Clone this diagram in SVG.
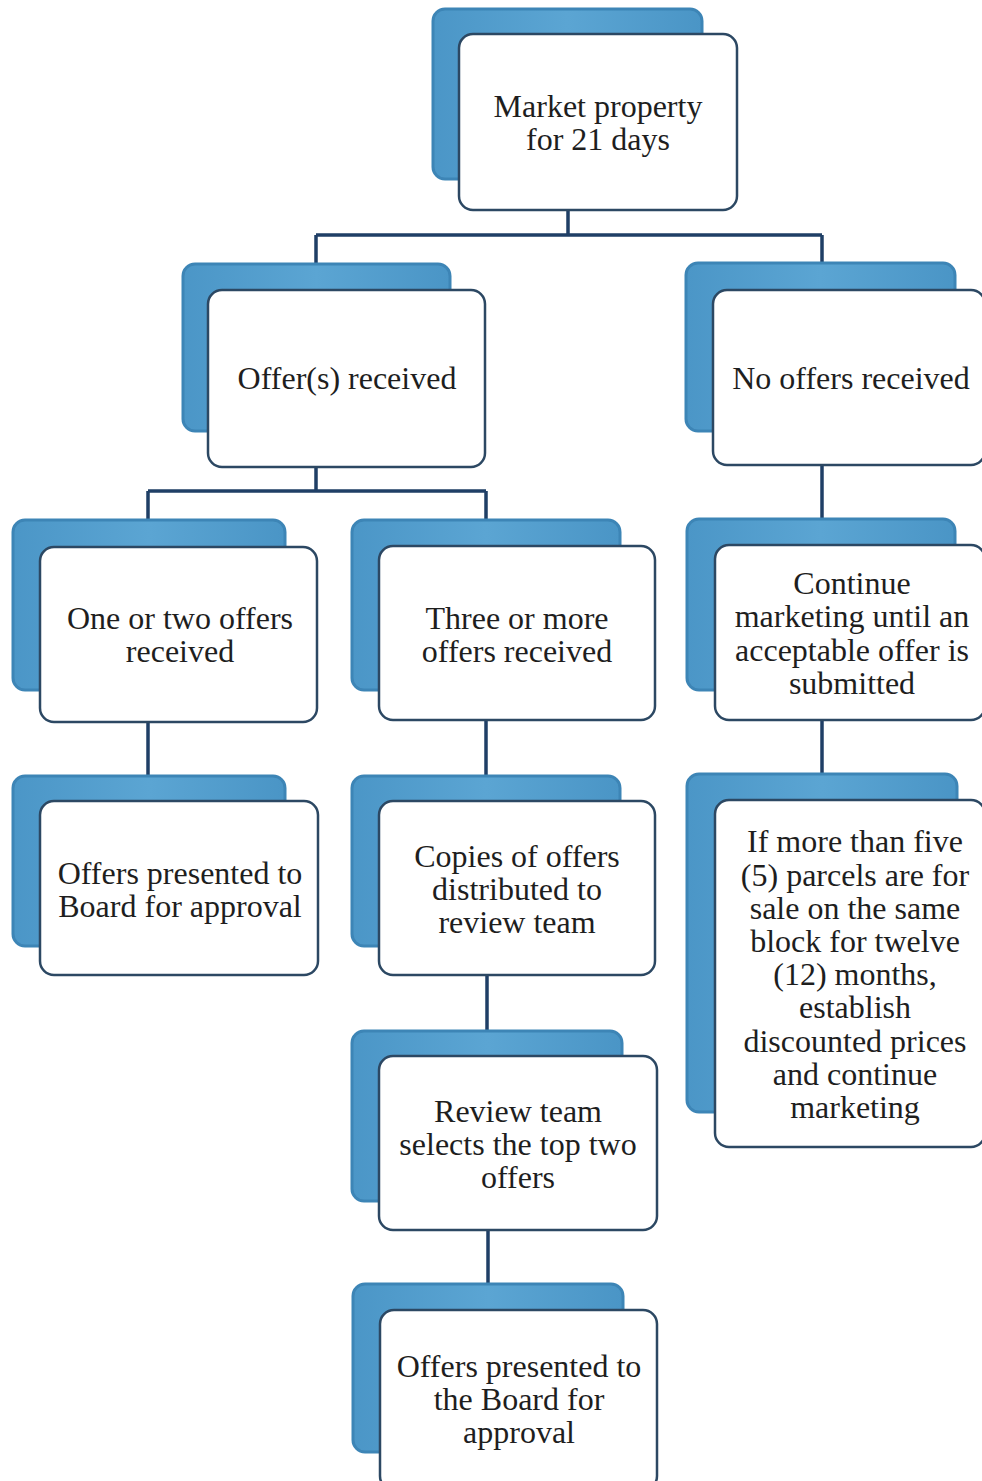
<svg xmlns="http://www.w3.org/2000/svg" width="982" height="1481" viewBox="0 0 982 1481">
<defs>
<linearGradient id="bg" x1="0" y1="0" x2="1" y2="0">
<stop offset="0" stop-color="#4b96c7"/>
<stop offset="0.5" stop-color="#5ba5d3"/>
<stop offset="1" stop-color="#4a95c6"/>
</linearGradient>
</defs>
<style>
.back{fill:url(#bg);stroke:#3d85b6;stroke-width:3}
.front{fill:#ffffff;stroke:#2c4863;stroke-width:2.5}
.conn{fill:none;stroke:#1f3f66;stroke-width:3.5}
text{font-family:"Liberation Serif","Times New Roman",serif;font-size:32px;fill:#1e1e1e;text-anchor:middle}
</style>
<rect width="982" height="1481" fill="#ffffff"/>
<g id="connectors">
<path class="conn" d="M568 210V235M316 235H822M316 235V265M822 235V264"/>
<path class="conn" d="M316 467V491M148 491H486M148 491V522M486 491V522"/>
<path class="conn" d="M822 465V520"/>
<path class="conn" d="M148 722V777"/>
<path class="conn" d="M486 720V777"/>
<path class="conn" d="M822 720V775"/>
<path class="conn" d="M487 975V1032"/>
<path class="conn" d="M488 1230V1285"/>
</g>
<g id="n1">
<rect class="back" x="433" y="9" width="269" height="170" rx="12"/>
<rect class="front" x="459" y="34" width="278" height="176" rx="14"/>
<text x="598" y="117">Market property</text>
<text x="598" y="150">for 21 days</text>
</g>
<g id="n2">
<rect class="back" x="183" y="264" width="267" height="167" rx="12"/>
<rect class="front" x="208" y="290" width="277" height="177" rx="14"/>
<text x="347" y="389">Offer(s) received</text>
</g>
<g id="n3">
<rect class="back" x="686" y="263" width="269" height="168" rx="12"/>
<rect class="front" x="713" y="290" width="272" height="175" rx="14"/>
<text x="851" y="389">No offers received</text>
</g>
<g id="n4">
<rect class="back" x="13" y="520" width="272" height="170" rx="12"/>
<rect class="front" x="40" y="547" width="277" height="175" rx="14"/>
<text x="180" y="629">One or two offers</text>
<text x="180" y="662">received</text>
</g>
<g id="n5">
<rect class="back" x="352" y="520" width="268" height="170" rx="12"/>
<rect class="front" x="379" y="546" width="276" height="174" rx="14"/>
<text x="517" y="629">Three or more</text>
<text x="517" y="662">offers received</text>
</g>
<g id="n6">
<rect class="back" x="687" y="519" width="268" height="171" rx="12"/>
<rect class="front" x="715" y="545" width="270" height="175" rx="14"/>
<text x="852" y="594">Continue</text>
<text x="852" y="627">marketing until an</text>
<text x="852" y="661">acceptable offer is</text>
<text x="852" y="694">submitted</text>
</g>
<g id="n7">
<rect class="back" x="13" y="776" width="272" height="170" rx="12"/>
<rect class="front" x="40" y="801" width="278" height="174" rx="14"/>
<text x="180" y="884">Offers presented to</text>
<text x="180" y="917">Board for approval</text>
</g>
<g id="n8">
<rect class="back" x="352" y="776" width="268" height="170" rx="12"/>
<rect class="front" x="379" y="801" width="276" height="174" rx="14"/>
<text x="517" y="867">Copies of offers</text>
<text x="517" y="900">distributed to</text>
<text x="517" y="933">review team</text>
</g>
<g id="n9">
<rect class="back" x="687" y="774" width="270" height="338" rx="12"/>
<rect class="front" x="715" y="800" width="270" height="347" rx="14"/>
<text x="855" y="852">If more than five</text>
<text x="855" y="886">(5) parcels are for</text>
<text x="855" y="919">sale on the same</text>
<text x="855" y="952">block for twelve</text>
<text x="855" y="985">(12) months,</text>
<text x="855" y="1018">establish</text>
<text x="855" y="1052">discounted prices</text>
<text x="855" y="1085">and continue</text>
<text x="855" y="1118">marketing</text>
</g>
<g id="n10">
<rect class="back" x="352" y="1031" width="270" height="170" rx="12"/>
<rect class="front" x="379" y="1056" width="278" height="174" rx="14"/>
<text x="518" y="1122">Review team</text>
<text x="518" y="1155">selects the top two</text>
<text x="518" y="1188">offers</text>
</g>
<g id="n11">
<rect class="back" x="353" y="1284" width="270" height="168" rx="12"/>
<rect class="front" x="380" y="1310" width="277" height="180" rx="14"/>
<text x="519" y="1377">Offers presented to</text>
<text x="519" y="1410">the Board for</text>
<text x="519" y="1443">approval</text>
</g>
</svg>
